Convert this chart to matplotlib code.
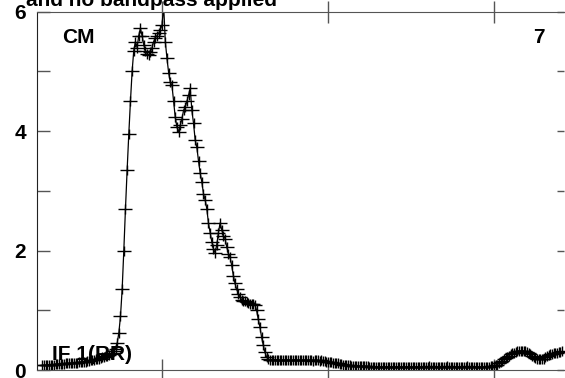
import numpy as np
import matplotlib
matplotlib.use('Agg')
import matplotlib.pyplot as plt
from matplotlib.path import Path

plt.rcParams['font.family'] = ['Liberation Sans', 'DejaVu Sans']
plt.rcParams['font.weight'] = 'bold'

# amplitude per channel, channels start at 28
first_chan = 28
amp = [
    0.08, 0.08, 0.08, 0.09, 0.09, 0.09, 0.09, 0.09, 0.10, 0.10,
    0.10, 0.10, 0.10, 0.10, 0.11, 0.11, 0.11, 0.11, 0.11, 0.12,
    0.12, 0.12, 0.13, 0.13, 0.13, 0.14, 0.14, 0.15, 0.15, 0.16,
    0.16, 0.17, 0.18, 0.18, 0.19, 0.20, 0.21, 0.22, 0.23, 0.24,
    0.25, 0.27, 0.29, 0.32, 0.36, 0.45, 0.62, 0.90, 1.35, 2.00,
    2.70, 3.35, 3.95, 4.50, 5.00, 5.35, 5.50, 5.40, 5.60, 5.72,
    5.60, 5.45, 5.35, 5.30, 5.27, 5.32, 5.40, 5.50, 5.56, 5.60,
    5.64, 5.70, 5.77, 6.10, 5.50, 5.22, 4.98, 4.82, 4.77, 4.50,
    4.23, 4.07, 3.98, 4.10, 4.20, 4.35, 4.40, 4.50, 4.60, 4.72,
    4.35, 4.13, 3.85, 3.73, 3.50, 3.30, 3.15, 2.95, 2.85, 2.70,
    2.46, 2.30, 2.15, 2.03, 1.96, 2.10, 2.30, 2.46, 2.35, 2.25,
    2.20, 2.06, 1.95, 1.89, 1.75, 1.58, 1.45, 1.35, 1.28, 1.22,
    1.18, 1.16, 1.15, 1.14, 1.12, 1.11, 1.10, 1.10, 1.09, 1.00,
    0.85, 0.72, 0.55, 0.42, 0.30, 0.22, 0.18, 0.17, 0.16, 0.16,
    0.16, 0.17, 0.16, 0.16, 0.17, 0.16, 0.16, 0.16, 0.17, 0.16,
    0.16, 0.16, 0.17, 0.16, 0.16, 0.16, 0.16, 0.16, 0.16, 0.16,
    0.16, 0.16, 0.16, 0.15, 0.16, 0.16, 0.16, 0.15, 0.16, 0.15,
    0.15, 0.14, 0.14, 0.13, 0.13, 0.12, 0.12, 0.11, 0.11, 0.10,
    0.10, 0.09, 0.09, 0.08, 0.08, 0.08, 0.07, 0.07, 0.07, 0.07,
    0.06, 0.06, 0.06, 0.06, 0.06, 0.06, 0.06, 0.05, 0.05, 0.05,
    0.05, 0.05, 0.05, 0.05, 0.05, 0.05, 0.05, 0.05, 0.05, 0.05,
    0.05, 0.05, 0.05, 0.05, 0.05, 0.05, 0.05, 0.05, 0.05, 0.05,
    0.05, 0.05, 0.05, 0.05, 0.05, 0.05, 0.05, 0.05, 0.05, 0.05,
    0.05, 0.05, 0.05, 0.06, 0.05, 0.05, 0.05, 0.05, 0.05, 0.05,
    0.05, 0.05, 0.05, 0.05, 0.06, 0.05, 0.05, 0.05, 0.05, 0.05,
    0.05, 0.05, 0.05, 0.05, 0.05, 0.05, 0.06, 0.05, 0.05, 0.05,
    0.05, 0.05, 0.05, 0.05, 0.05, 0.05, 0.05, 0.05, 0.05, 0.05,
    0.06, 0.06, 0.07, 0.08, 0.09, 0.11, 0.13, 0.15, 0.18, 0.20,
    0.22, 0.24, 0.26, 0.28, 0.29, 0.30, 0.31, 0.32, 0.32, 0.32,
    0.32, 0.31, 0.30, 0.28, 0.26, 0.24, 0.22, 0.20, 0.19, 0.18,
    0.18, 0.18, 0.19, 0.21, 0.23, 0.25, 0.26, 0.27, 0.28, 0.28,
    0.29, 0.30, 0.30, 0.31,
]
chans = np.arange(first_chan, first_chan + len(amp))

x_ticks = [100, 200, 300]
y_ticks = [0, 1, 2, 3, 4, 5, 6]
y_labels = ['0', '', '2', '', '4', '', '6']

# wide plus sign, vertical arm a bit shorter
plus = Path([(-1, 0), (1, 0), (0, -0.8), (0, 0.8)],
            [Path.MOVETO, Path.LINETO, Path.MOVETO, Path.LINETO])

fig = plt.figure(figsize=(5.65, 3.78), dpi=100)
ax = fig.add_axes([37 / 565, 8 / 378, 527 / 565, 358.3 / 378])

ax.plot(chans, amp, color='black', lw=0.9, marker=plus, ms=9.5, mew=1.0,
        mec='black')

ax.set_xlim(24.7, 342.2)
ax.set_ylim(0, 6)

gray = '#555555'
for s in ['top', 'bottom']:
    ax.spines[s].set_color(gray)
ax.spines['left'].set_color('#222222')
ax.spines['right'].set_visible(False)

ax.set_xticks(x_ticks)
ax.set_xticklabels([])
ax.tick_params(axis='x', which='both', bottom=True, top=True, direction='inout',
               length=16, width=1, color=gray)
ax.set_yticks(y_ticks)
ax.set_yticklabels(y_labels, fontsize=15, fontweight='bold')
ax.tick_params(axis='y', direction='in', length=9.5, width=1, color=gray, pad=8)

sec = ax.secondary_yaxis('right')
sec.set_yticks(y_ticks)
sec.set_yticklabels([])
sec.tick_params(direction='in', length=5, width=1, color=gray)
sec.spines['right'].set_visible(False)

fig.text(62 / 565, 1 - 43 / 378, 'CM', fontsize=15, fontweight='bold',
         ha='left', va='baseline')
fig.text(545 / 565, 1 - 43 / 378, '7', fontsize=15, fontweight='bold',
         ha='right', va='baseline')
fig.text(52 / 565, 1 - 360 / 378, 'IF 1(RR)', fontsize=15, fontweight='bold',
         ha='left', va='baseline')
fig.text(277 / 565, 1 - 6 / 378, 'and no bandpass applied', fontsize=15,
         fontweight='bold', ha='right', va='baseline')

fig.savefig('out.png', dpi=100)
